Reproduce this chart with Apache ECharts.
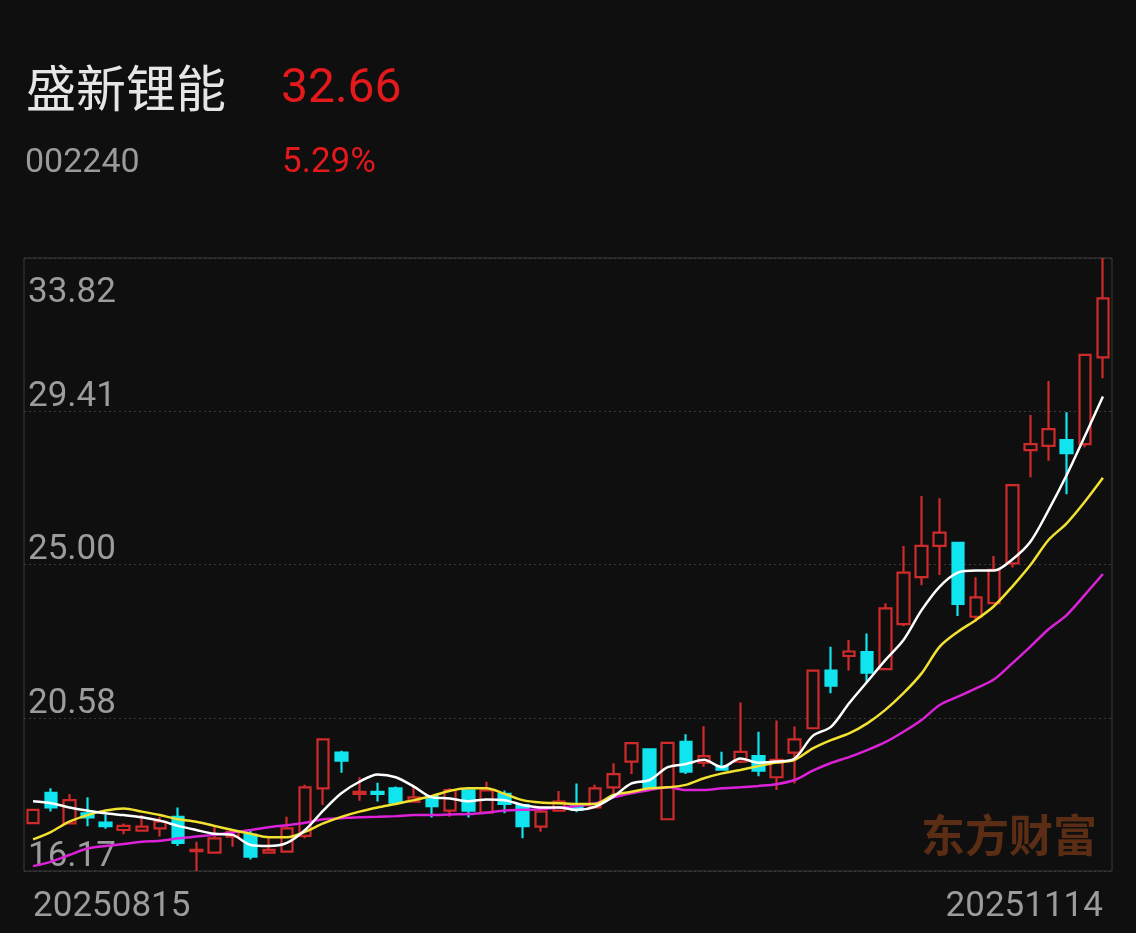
<!DOCTYPE html>
<html><head><meta charset="utf-8">
<script src="https://cdn.jsdelivr.net/npm/echarts@6/dist/echarts.min.js"></script>
<style>html,body{margin:0;padding:0;background:#0f0f0f}#c{width:1136px;height:933px}</style>
</head><body><div id="c"></div>
<script>
const stockName = '盛新锂能';
const stockCode = '002240';
const lastPrice = '32.66';
const changePct = '5.29%';
const watermark = '东方财富';

const dates = ['20250815','20250818','20250819','20250820','20250821','20250822','20250825','20250826','20250827','20250828','20250829',
'20250901','20250902','20250903','20250904','20250905','20250908','20250909','20250910','20250911','20250912',
'20250915','20250916','20250917','20250918','20250919','20250922','20250923','20250924','20250925','20250926',
'20250929','20250930','20251009','20251010','20251013','20251014','20251015','20251016','20251017',
'20251020','20251021','20251022','20251023','20251024','20251027','20251028','20251029','20251030','20251031',
'20251103','20251104','20251105','20251106','20251107','20251110','20251111','20251112','20251113','20251114'];

const opens  = [17.55,18.42,17.54,17.83,17.56,17.35,17.33,17.40,17.73,16.74,16.70,17.16,17.21,16.70,16.73,17.18,18.55,19.58,18.39,18.45,
18.55,18.17,18.33,17.91,18.49,17.85,18.39,18.07,17.45,17.91,18.07,18.00,18.58,19.32,19.67,17.66,19.89,19.29,19.19,19.32,
19.48,18.87,19.58,20.28,21.94,22.36,22.47,21.98,23.28,24.63,25.53,25.62,23.49,23.88,25.03,28.29,28.41,28.58,28.46,30.96];
const closes = [17.93,18.00,18.21,17.71,17.46,17.47,17.45,17.59,16.98,16.78,17.11,17.30,16.58,16.78,17.40,18.58,19.96,19.35,18.45,18.39,
18.14,18.29,18.04,18.50,17.91,18.49,18.10,17.46,17.88,18.17,17.93,18.55,18.96,19.85,18.58,19.86,19.03,19.48,19.09,19.60,
19.06,19.37,19.96,21.94,21.51,22.49,21.88,23.73,24.76,25.53,25.91,23.86,24.05,24.84,27.28,28.46,28.89,28.20,31.03,32.66];
const lows   = [17.55,17.88,17.54,17.46,17.39,17.23,17.33,17.16,16.89,16.17,16.70,16.87,16.50,16.70,16.73,17.11,18.07,19.00,18.19,18.17,
18.14,18.17,17.71,17.73,17.71,17.85,17.83,17.11,17.30,17.91,17.86,18.00,18.29,18.96,18.58,17.66,18.96,19.17,19.06,19.27,
18.90,18.50,18.69,20.28,21.29,21.94,21.62,21.98,23.22,24.40,24.69,23.51,23.35,23.88,24.91,27.51,27.98,27.02,28.37,30.36];
const highs  = [17.93,18.55,18.39,18.29,17.80,17.54,17.78,17.73,18.00,17.01,17.45,17.35,17.35,17.11,17.73,18.65,19.96,19.63,18.87,18.71,
18.60,18.65,18.33,18.55,18.49,18.74,18.49,18.07,17.96,18.47,18.69,18.65,19.27,19.85,19.67,19.86,20.11,20.34,19.60,21.02,
20.18,20.50,20.33,21.94,22.63,22.82,23.01,23.88,25.53,26.97,26.90,25.62,24.63,25.24,27.28,29.30,30.28,29.38,31.03,33.82];

const ma5  = [18.18,18.12,18.00,17.91,17.83,17.78,17.72,17.62,17.47,17.35,17.24,17.21,16.92,16.89,16.98,17.35,17.91,18.41,18.74,18.95,
18.87,18.60,18.29,18.26,18.18,18.23,18.21,18.07,18.00,18.00,17.93,18.02,18.31,18.69,18.79,19.16,19.25,19.37,19.16,19.41,
19.29,19.32,19.41,20.06,20.32,21.00,21.62,22.24,22.82,23.68,24.36,24.76,24.82,24.82,25.14,25.65,26.56,27.57,28.69,29.83];
const ma10 = [17.08,17.30,17.59,17.78,17.91,17.97,17.88,17.78,17.66,17.59,17.47,17.35,17.24,17.14,17.14,17.30,17.54,17.73,17.88,18.00,
18.10,18.21,18.33,18.48,18.55,18.55,18.39,18.21,18.14,18.12,18.10,18.10,18.36,18.45,18.55,18.58,18.65,18.84,18.98,19.08,
19.19,19.29,19.37,19.70,19.94,20.13,20.42,20.81,21.29,21.86,22.63,23.06,23.40,23.80,24.36,24.98,25.70,26.18,26.80,27.49];
const ma20 = [16.31,16.44,16.63,16.82,16.89,16.95,17.01,17.04,17.11,17.16,17.21,17.28,17.35,17.43,17.49,17.56,17.66,17.69,17.72,17.73,
17.75,17.78,17.78,17.80,17.81,17.85,17.91,17.93,17.95,18.00,18.04,18.12,18.29,18.41,18.50,18.58,18.50,18.50,18.55,18.58,
18.62,18.67,18.79,19.06,19.28,19.45,19.65,19.88,20.18,20.52,20.95,21.19,21.43,21.69,22.15,22.63,23.13,23.54,24.12,24.72];

const yTicks = [16.17, 20.58, 25.00, 29.41, 33.82];
const yTickLabels = ['16.17', '20.58', '25.00', '29.41', '33.82'];

const UP = '#d02b2b', DOWN = '#10e4ee', BG = '#0f0f0f';
const kData = opens.map((o, i) => [o, closes[i], lows[i], highs[i]]);

const chart = echarts.init(document.getElementById('c'), null, {renderer: 'canvas'});
chart.setOption({
  backgroundColor: BG,
  animation: false,
  grid: {left: 24, right: 24, top: 258, bottom: 62, show: true, borderColor: '#3c3c3c', borderWidth: 1, backgroundColor: 'transparent'},
  xAxis: {
    type: 'category', data: dates, boundaryGap: true,
    axisLine: {show: false}, axisTick: {show: false}, splitLine: {show: false},
    axisLabel: {
      interval: (i) => i === 0 || i === dates.length - 1,
      color: '#9c9c9c', fontSize: 35, fontFamily: 'Roboto', margin: 19,
      alignMinLabel: 'left', alignMaxLabel: 'right'
    }
  },
  yAxis: {
    type: 'value', min: yTicks[0], max: yTicks[yTicks.length - 1], scale: true,
    axisLine: {show: false},
    axisTick: {show: false, customValues: yTicks},
    splitLine: {show: true, lineStyle: {color: '#3a3a3a', type: [2, 3], width: 1}},
    axisLabel: {
      inside: true, margin: 4, customValues: yTicks, verticalAlign: 'middle', align: 'left',
      formatter: (v) => {
        let k = 0, d = Infinity;
        yTicks.forEach((t, j) => { if (Math.abs(t - v) < d) { d = Math.abs(t - v); k = j; } });
        return (k === yTicks.length - 1 ? '{t|' : '{n|') + yTickLabels[k] + '}';
      },
      rich: {
        n: {fontSize: 35, fontFamily: 'Roboto', color: '#9c9c9c', padding: [0, 0, 28, 0]},
        t: {fontSize: 35, fontFamily: 'Roboto', color: '#9c9c9c', padding: [70, 0, 0, 0]}
      }
    }
  },
  graphic: [
    {type: 'text', left: 26, top: 63, style: {text: stockName, fill: '#e6e6e6', fontSize: 50, fontFamily: 'Noto Sans CJK SC'}},
    {type: 'text', left: 281, top: 66, style: {text: lastPrice, fill: '#e3191b', fontSize: 48, fontFamily: 'Roboto'}},
    {type: 'text', left: 25, top: 146, style: {text: stockCode, fill: '#9a9a9a', fontSize: 34, fontFamily: 'Roboto'}},
    {type: 'text', left: 282, top: 146, style: {text: changePct, fill: '#e3191b', fontSize: 35, fontFamily: 'Roboto'}},
    {type: 'text', left: 921, top: 813, style: {text: watermark, fill: '#5a2d14', fontSize: 44, fontWeight: 'bold', fontFamily: 'Noto Sans CJK SC'}}
  ],
  series: [
    {type: 'candlestick', data: kData, barWidth: 12,
     itemStyle: {color: BG, color0: DOWN, borderColor: UP, borderColor0: DOWN, borderWidth: 2.2}},
    {type: 'line', data: ma20, symbol: 'none', smooth: 0.3, lineStyle: {color: '#dc22d8', width: 2.5}, z: 3},
    {type: 'line', data: ma10, symbol: 'none', smooth: 0.3, lineStyle: {color: '#f2e130', width: 2.5}, z: 3},
    {type: 'line', data: ma5, symbol: 'none', smooth: 0.3, lineStyle: {color: '#ffffff', width: 2.5}, z: 3}
  ]
});
</script></body></html>
